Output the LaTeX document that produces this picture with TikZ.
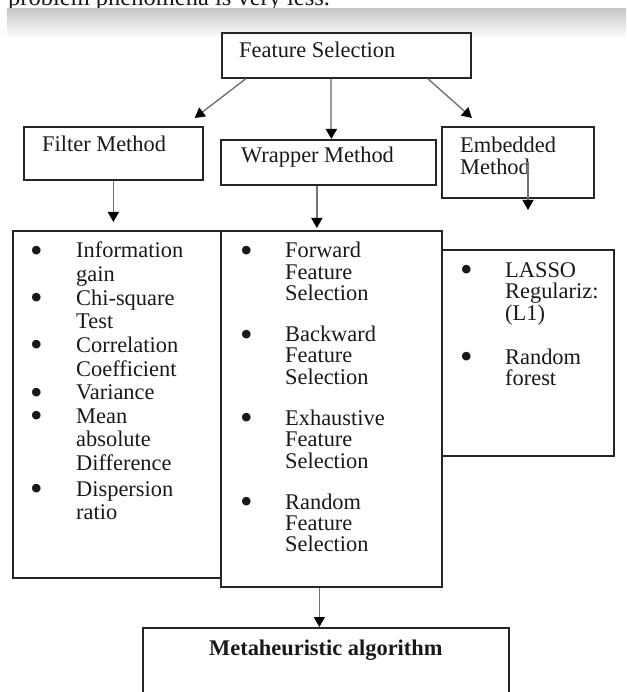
\documentclass[tikz,border=0pt]{standalone}
\usepackage{fontspec}
\setmainfont{Liberation Serif}
\usepackage{xcolor}
\usetikzlibrary{arrows.meta}

\newcommand{\blt}{\raisebox{-4.5pt}{\scalebox{1.6}{\textbullet}}}

\begin{document}
\begin{tikzpicture}[x=1pt,y=-1pt,
  box/.style={draw=black!85, line width=1.7pt, anchor=north west, inner sep=0pt},
  lbl/.style={anchor=base west, inner sep=0pt, text=black!90, font=\fontsize{22.4}{22}\selectfont},
  arr/.style={draw=black!55, line width=1.4pt, -{Triangle[width=11pt,length=10pt,color=black]}}]
  \clip (0,0) rectangle (626,692);
  % cut off line of the page above
  \begin{scope}
    \clip (0,0) rectangle (626,9);
    \node[lbl, font=\fontsize{24.5}{24}\selectfont] (toptext) at (8,6) {problem phenomena is very less.};
  \end{scope}
  \shade[top color=black!22, bottom color=white] (7,9) rectangle (626,38);

  \node[box, minimum width=249pt, minimum height=45pt] (fsbox) at (221,32) {};
  \node[box, minimum width=179pt, minimum height=53pt] (filterbox) at (23,126) {};
  \node[box, minimum width=215pt, minimum height=45pt] (wrapbox) at (220,139) {};
  \node[box, minimum width=152pt, minimum height=71pt] (embbox) at (441,126) {};
  \node[box, minimum width=208pt, minimum height=347pt] (filterlist) at (12,230) {};
  \node[box, minimum width=221pt, minimum height=356pt] (wraplist) at (220,230) {};
  \node[box, minimum width=172pt, minimum height=206pt] (emblist) at (441,249) {};
  \node[box, minimum width=366pt, minimum height=90pt] (metabox) at (142,627) {};

  \node[lbl] (fs) at (239,58) {Feature Selection};
  \node[lbl] (filter) at (42,152) {Filter Method};
  \node[lbl] (wrapper) at (241,163) {Wrapper Method};
  \node[lbl, font=\fontsize{22.4}{20}\selectfont] (embedded) at (460,153)
    {\begin{tabular}[t]{@{}l@{}}Embedded\\Method\end{tabular}};

  \node[lbl, font=\fontsize{22.4}{23.6}\selectfont] (filteritems) at (30,258)
    {\begin{tabular}[t]{@{}p{46pt}@{}l@{}}
      \blt & Information\\ & gain\\
      \blt & Chi-square\\ & Test\\
      \blt & Correlation\\ & Coefficient\\
      \blt & Variance\\
      \blt & Mean\\ & absolute\\ & Difference\\[2pt]
      \blt & Dispersion\\ & ratio
    \end{tabular}};
  \node[lbl, font=\fontsize{22.4}{21}\selectfont] (wrapitems) at (240,258)
    {\begin{tabular}[t]{@{}p{45pt}@{}l@{}}
      \blt & Forward\\ & Feature\\ & Selection\\[19pt]
      \blt & Backward\\ & Feature\\ & Selection\\[19pt]
      \blt & Exhaustive\\ & Feature\\ & Selection\\[19pt]
      \blt & Random\\ & Feature\\ & Selection
    \end{tabular}};
  \node[lbl, font=\fontsize{22.4}{20.5}\selectfont] (embitems) at (460,277)
    {\begin{tabular}[t]{@{}p{45pt}@{}l@{}}
      \blt & LASSO\\ & Regulariz:\\ & (L1)\\[22pt]
      \blt & Random\\ & forest
    \end{tabular}};

  \node[anchor=base, inner sep=0pt, text=black!90, font=\fontsize{22.4}{22}\selectfont\bfseries] (meta)
    at ([yshift=-28pt]metabox.north) {Metaheuristic algorithm};

  \coordinate (embtip) at (528,210);
  \draw[arr] ([xshift=-100.5pt]fsbox.south) -- ([xshift=-9pt,yshift=8pt]filterbox.north east);
  \draw[arr, draw=black!40, line width=1.8pt] ([xshift=-15pt]fsbox.south) -- ([xshift=-15pt]fsbox.south |- wrapbox.north);
  \draw[arr] ([xshift=81.5pt]fsbox.south) -- ([xshift=31pt,yshift=8pt]embbox.north west);
  \draw[arr, shorten >=8pt] (filterbox.south) -- (filterbox.south |- filterlist.north);
  \draw[arr, shorten >=2pt] ([xshift=-11.5pt]wrapbox.south) -- ([xshift=-11.5pt]wrapbox.south |- wraplist.north);
  \draw[arr] (embbox.center -| embtip) -- (embtip);
  \draw[arr] ([xshift=-12pt]wraplist.south) -- ([xshift=-12pt]wraplist.south |- metabox.north);
\end{tikzpicture}
\end{document}
